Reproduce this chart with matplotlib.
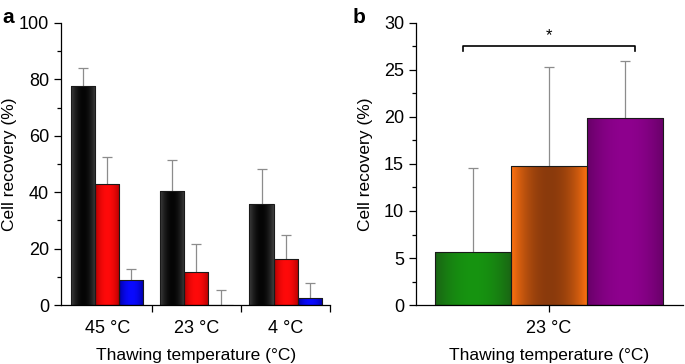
import numpy as np
import matplotlib.pyplot as plt
from matplotlib.colors import to_rgb
from matplotlib.ticker import MultipleLocator

plt.rcParams['font.family'] = ['Liberation Sans', 'DejaVu Sans']

# panel a: three thawing temperatures, three series each
temps_a = ['45 °C', '23 °C', '4 °C']
black_vals = [77.7, 40.3, 35.8]
black_err = [6.2, 11.2, 12.3]
red_vals = [42.9, 11.6, 16.2]
red_err = [9.5, 10.1, 8.6]
blue_vals = [8.9, 0.0, 2.6]
blue_err = [4.0, 5.3, 5.3]

# panel b: one temperature, three series
temps_b = ['23 °C']
b_vals = [5.6, 14.8, 19.9]
b_err = [9.0, 10.5, 6.0]

# (edge colour, centre colour) for the shaded bars
shade_black = ('#404040', '#050505')
shade_red = ('#b00000', '#ff0a0a')
shade_blue = ('#0000a0', '#0a0aff')
shade_b = [('#1a6414', '#169410'), ('#ff7210', '#8a3a0c'), ('#680068', '#8e008e')]


def shade_bars(ax, bars, shade):
    c_edge = np.array(to_rgb(shade[0]))
    c_mid = np.array(to_rgb(shade[1]))
    t = np.linspace(0, 1, 64)
    w = 1 - (2 * t - 1) ** 2
    grad = c_edge[None, :] + (c_mid - c_edge)[None, :] * w[:, None]
    grad = grad[None, :, :]
    for p in bars.patches:
        x0, y0 = p.get_x(), p.get_y()
        if p.get_height() <= 0:
            continue
        im = ax.imshow(grad, extent=(x0, x0 + p.get_width(), y0, y0 + p.get_height()),
                       aspect='auto', origin='lower', zorder=p.get_zorder(),
                       interpolation='bilinear')
        im.set_clip_path(p)
        p.set_facecolor('none')
        p.set_zorder(p.get_zorder() + 0.1)


def up_errors(ax, x, vals, err):
    _, caps, _ = ax.errorbar(x, vals, yerr=[np.zeros(len(err)), err], fmt='none',
                             ecolor='#8c8c8c', elinewidth=0.9, capsize=3.5,
                             capthick=0.9, zorder=1)
    caps[0].set_visible(False)


def style_axes(ax):
    for s in ['top', 'right']:
        ax.spines[s].set_visible(False)
    for s in ['left', 'bottom']:
        ax.spines[s].set_linewidth(0.9)
    ax.tick_params(axis='both', which='major', labelsize=13, direction='out',
                   length=5, width=0.9)
    ax.tick_params(axis='both', which='minor', direction='out', length=3, width=0.9)
    ax.set_ylabel('Cell recovery (%)', fontsize=12.5)
    ax.yaxis.set_label_coords(-0.162, 0.5)
    ax.set_xlabel('Thawing temperature (°C)', fontsize=12.5, labelpad=8)


fig = plt.figure(figsize=(6.85, 3.64), dpi=100)

# ---- panel a
ax1 = fig.add_axes([0.089, 0.162, 0.393, 0.775])
xa = np.arange(len(temps_a))
bw = 0.27
for vals, err, shade, off in [(black_vals, black_err, shade_black, -bw),
                              (red_vals, red_err, shade_red, 0),
                              (blue_vals, blue_err, shade_blue, bw)]:
    bars = ax1.bar(xa + off, vals, width=bw, edgecolor='#1a1a1a', linewidth=0.8, zorder=2)
    shade_bars(ax1, bars, shade)
    up_errors(ax1, xa + off, vals, err)
ax1.set_xlim(-0.52, 2.5)
ax1.set_ylim(0, 100)
ax1.set_xticks(xa)
ax1.set_xticklabels(temps_a)
ax1.set_xticks(xa + 0.5, minor=True)
ax1.yaxis.set_major_locator(MultipleLocator(20))
ax1.yaxis.set_minor_locator(MultipleLocator(10))
style_axes(ax1)
ax1.tick_params(axis='x', which='major', length=0, pad=11)
ax1.tick_params(axis='x', which='minor', length=5)

# ---- panel b
ax2 = fig.add_axes([0.607, 0.162, 0.39, 0.775])
bw2 = 1.0
offs = np.array([-1, 0, 1]) * bw2
for v, e, sh, off in zip(b_vals, b_err, shade_b, offs):
    bars = ax2.bar([off], [v], width=bw2, edgecolor='#1a1a1a', linewidth=0.8, zorder=2)
    shade_bars(ax2, bars, sh)
    up_errors(ax2, [off], [v], [e])
ax2.set_xlim(-1.75, 1.76)
ax2.set_ylim(0, 30)
ax2.set_xticks([0])
ax2.set_xticklabels(temps_b)
ax2.yaxis.set_major_locator(MultipleLocator(5))
ax2.yaxis.set_minor_locator(MultipleLocator(2.5))
style_axes(ax2)
ax2.tick_params(axis='x', which='minor', length=0)
ax2.tick_params(axis='x', which='major', pad=6)

# significance bracket
ax2.plot([-1.13, -1.13, 1.13, 1.13], [27.0, 27.55, 27.55, 27.0], color='black',
         lw=1.2, clip_on=False)
ax2.text(0, 27.85, '*', ha='center', va='bottom', fontsize=12)

fig.text(0.004, 0.978, 'a', fontsize=15, fontweight='bold', va='top')
fig.text(0.515, 0.978, 'b', fontsize=15, fontweight='bold', va='top')

fig.savefig('out.png', dpi=100)
